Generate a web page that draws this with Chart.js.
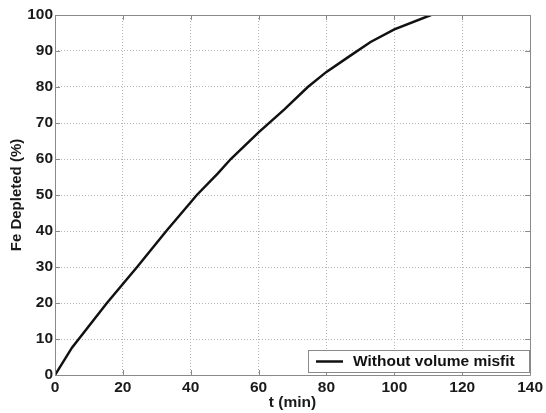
<!DOCTYPE html>
<html><head><meta charset="utf-8">
<script src="https://cdn.jsdelivr.net/npm/chart.js@4.4.0/dist/chart.umd.min.js"></script>
<style>html,body{margin:0;padding:0;background:#fff}#wrap{width:546px;height:413px}</style>
</head><body><div id="wrap"><canvas id="c" width="546" height="413"></canvas></div>
<script>
const tValues    = [0, 5, 15.3, 24.2, 32.8, 41.8, 48, 51.8, 60, 67.6, 74.5, 80, 86.4, 93, 100, 110.8];
const feDepleted = [0, 7.6, 20, 30, 40, 50, 56, 60, 67.4, 73.8, 80, 84.2, 88.3, 92.5, 96, 100];
const xTicks = [0, 20, 40, 60, 80, 100, 120, 140];
const yTicks = [0, 10, 20, 30, 40, 50, 60, 70, 80, 90, 100];
const seriesLabel = 'Without volume misfit';
const xTitle = 't (min)';
const yTitle = 'Fe Depleted (%)';

const FONT = '"Liberation Sans", Arial, Helvetica, sans-serif';
const BOX = '#8a8a8a';

const boxPlugin = {
  id: 'boxPlugin',
  afterDatasetsDraw(chart) {
    const {ctx, chartArea: a, scales} = chart;
    ctx.save();
    ctx.strokeStyle = BOX;
    ctx.lineWidth = 1;
    ctx.beginPath();
    ctx.rect(Math.round(a.left) + 0.5, Math.round(a.top) + 0.5, Math.round(a.right - a.left), Math.round(a.bottom - a.top));
    ctx.stroke();
    const tl = 5;
    ctx.beginPath();
    xTicks.forEach(v => {
      const x = Math.round(scales.x.getPixelForValue(v)) + 0.5;
      ctx.moveTo(x, a.bottom); ctx.lineTo(x, a.bottom - tl);
      ctx.moveTo(x, a.top); ctx.lineTo(x, a.top + tl);
    });
    yTicks.forEach(v => {
      const y = Math.round(scales.y.getPixelForValue(v)) + 0.5;
      ctx.moveTo(a.left, y); ctx.lineTo(a.left + tl, y);
      ctx.moveTo(a.right, y); ctx.lineTo(a.right - tl, y);
    });
    ctx.stroke();
    ctx.restore();
  },
  afterDraw(chart) {
    const {ctx, chartArea: a} = chart;
    const w = 221, h = 22;
    const x0 = Math.round(a.right) - w - 1, y0 = Math.round(a.bottom) - h - 3;
    ctx.save();
    ctx.fillStyle = '#fff';
    ctx.fillRect(x0, y0, w, h);
    ctx.strokeStyle = BOX;
    ctx.lineWidth = 1;
    ctx.strokeRect(x0 + 0.5, y0 + 0.5, w, h);
    ctx.strokeStyle = '#111';
    ctx.lineWidth = 2.5;
    ctx.beginPath();
    ctx.moveTo(x0 + 8, y0 + h / 2 + 0.5);
    ctx.lineTo(x0 + 35, y0 + h / 2 + 0.5);
    ctx.stroke();
    ctx.fillStyle = '#111';
    ctx.font = 'bold 15.5px ' + FONT;
    ctx.textBaseline = 'middle';
    ctx.textAlign = 'left';
    ctx.fillText(seriesLabel, x0 + 45, y0 + h / 2 + 1);
    ctx.restore();
  }
};

new Chart(document.getElementById('c'), {
  type: 'scatter',
  data: {
    datasets: [{
      label: seriesLabel,
      data: tValues.map((t, i) => ({x: t, y: feDepleted[i]})),
      showLine: true,
      borderColor: '#111',
      borderWidth: 2.5,
      pointRadius: 0,
      tension: 0,
      fill: false
    }]
  },
  options: {
    responsive: false,
    animation: false,
    devicePixelRatio: 1,
    layout: {padding: {left: 0, top: 15, right: 13, bottom: 0}},
    plugins: {legend: {display: false}, tooltip: {enabled: false}},
    scales: {
      x: {
        type: 'linear', min: 0, max: 140,
        afterBuildTicks: s => { s.ticks = xTicks.map(v => ({value: v})); },
        afterFit: s => { s.height = 38; },
        ticks: {color: '#1a1a1a', font: {family: FONT, size: 15.5, weight: 'bold'}, padding: 3, maxRotation: 0, autoSkip: false},
        grid: {color: '#b5b5b5', lineWidth: 1, drawTicks: false, borderDash: [1, 2]},
        border: {display: false, dash: [1, 2]},
        title: {display: true, text: xTitle, color: '#1a1a1a', font: {family: FONT, size: 15.5, weight: 'bold'}, padding: {top: 0, bottom: 1}}
      },
      y: {
        type: 'linear', min: 0, max: 100,
        afterBuildTicks: s => { s.ticks = yTicks.map(v => ({value: v})); },
        afterFit: s => { s.width = 55; },
        ticks: {color: '#1a1a1a', font: {family: FONT, size: 15.5, weight: 'bold'}, padding: 2, autoSkip: false},
        grid: {color: '#b5b5b5', lineWidth: 1, drawTicks: false, borderDash: [1, 2]},
        border: {display: false, dash: [1, 2]},
        title: {display: true, text: yTitle, color: '#1a1a1a', font: {family: FONT, size: 15, weight: 'bold'}, padding: {top: 8, bottom: 0}}
      }
    }
  },
  plugins: [boxPlugin]
});
</script>
</body></html>
